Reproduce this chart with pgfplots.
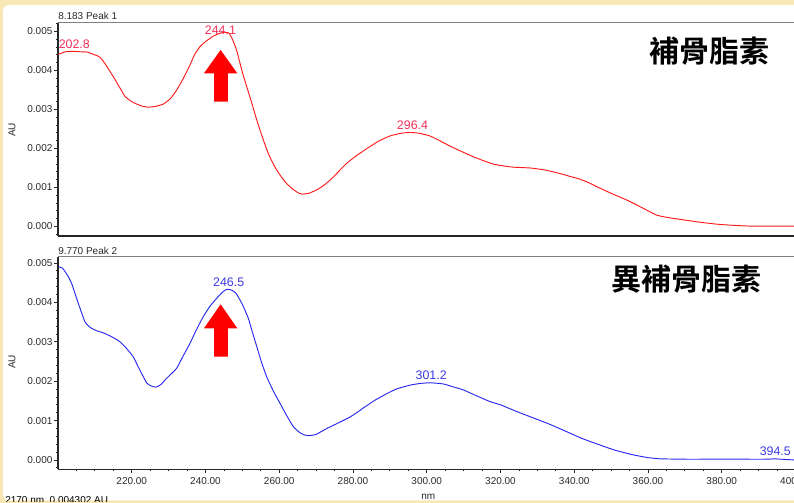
\documentclass[border=0pt]{standalone}
\usepackage{pgfplots}
\pgfplotsset{compat=1.18}
\usepackage{fontspec}
\setmainfont{Liberation Sans}
\newfontfamily\cjk{Noto Sans CJK TC}[BoldFont={Noto Sans CJK TC Bold}]
\definecolor{cream}{HTML}{F7E7B4}
\definecolor{redline}{HTML}{FF1A1A}
\definecolor{redlab}{HTML}{F2305A}
\definecolor{blueline}{HTML}{2828F0}
\definecolor{bluelab}{HTML}{3C3CE6}
\definecolor{axgray}{HTML}{808080}
\definecolor{ticktext}{HTML}{2A2A2A}

\pgfplotstableread{
x y
200 0.00441
202 0.00448
204 0.00449
206 0.00448
208 0.00447
210 0.00440
211.4 0.00434
213 0.00414
215 0.00384
217 0.00352
218.2 0.00333
220 0.00320
221.3 0.00314
223 0.00308
224.5 0.00306
226.5 0.00308
228.6 0.00314
230.5 0.00328
232.2 0.00350
234 0.00380
235.8 0.00414
237 0.00440
238.5 0.00461
240 0.00474
242.1 0.00488
243.5 0.00494
245 0.00498
246.3 0.00496
247.3 0.00480
248.5 0.00450
250 0.00395
251.2 0.00358
252.5 0.00318
253.9 0.00273
255.5 0.00227
257 0.00188
258.5 0.00158
260.2 0.00132
262 0.00110
263.4 0.00098
265 0.00087
266.1 0.00083
268 0.00085
270.2 0.00094
272 0.00105
273.8 0.00119
276 0.00140
278.3 0.00162
281 0.00182
284.6 0.00205
287 0.00219
290 0.00232
293 0.00239
295.5 0.00241
298 0.00239
300.9 0.00232
303.5 0.00220
306.3 0.00206
309.5 0.00192
312.6 0.00179
315 0.00170
318 0.00160
321 0.00155
323.5 0.00152
328 0.00150
332 0.00145
336 0.00136
339 0.00128
341.6 0.00121
344 0.00112
347 0.00098
350.5 0.00083
354.2 0.00068
358 0.00050
362.4 0.00029
366 0.00022
369.6 0.00017
374 0.00011
378.6 0.00006
383 0.00003
387.7 0.00001
393 0.00001
400 0.00001
}\peakone

\pgfplotstableread{
x y
200.2 0.00490
201.2 0.00487
202.5 0.00470
203.7 0.00448
205.5 0.00398
207.3 0.00351
208.8 0.00336
210.5 0.00328
212.5 0.00322
214.1 0.00315
215.5 0.00308
216.8 0.00300
218.5 0.00284
220.4 0.00262
222.2 0.00228
224.1 0.00195
225.5 0.00187
226.6 0.00185
228 0.00192
229 0.00203
230.3 0.00215
232.2 0.00233
234 0.00265
235.8 0.00296
237.5 0.00330
239.4 0.00364
241.2 0.00390
243 0.00410
244.5 0.00425
245.7 0.00433
246.8 0.00432
247.7 0.00428
248.5 0.00420
250 0.00395
251.6 0.00360
252.8 0.00322
253.9 0.00288
255.2 0.00248
256.6 0.00211
258.4 0.00175
260.2 0.00144
262 0.00113
263.8 0.00085
265.5 0.00070
267 0.00063
268.3 0.00062
270 0.00065
272.9 0.00080
276 0.00094
279 0.00108
281 0.00120
282.8 0.00132
286 0.00152
289.1 0.00168
292 0.00181
295.5 0.00190
298 0.00194
300.9 0.00196
304.5 0.00193
307 0.00186
309.9 0.00178
313 0.00165
317.2 0.00148
320 0.00140
324.4 0.00123
328 0.00110
333 0.00092
337.9 0.00072
342 0.00055
347 0.00038
351 0.00025
356 0.00013
360 0.00006
363.3 0.00003
370 0.00002
376 0.00002
385 0.00002
392 0.00002
394.5 0.00003
396 0.00002
400 0.00000
}\peaktwo

\pgfplotsset{
  uvstyle/.style={
    scale only axis,
    width=553.125pt,
    xmin=200, xmax=400,
    axis x line*=bottom,
    axis y line*=left,
    axis line style={line width=0.9pt, color=black!85},
    tick align=outside,
    major tick length=3pt,
    minor tick length=1.6pt,
    tick style={black!85, line width=0.6pt},
    ytick={0,0.001,0.002,0.003,0.004,0.005},
    minor ytick={-0.0002,0.0002,0.0004,0.0006,0.0008,0.0012,0.0014,0.0016,0.0018,0.0022,0.0024,0.0026,0.0028,0.0032,0.0034,0.0036,0.0038,0.0042,0.0044,0.0046,0.0048,0.0052},
    scaled y ticks=false,
    scaled x ticks=false,
    tick label style={font=\fontsize{7.5}{9}\selectfont, color=ticktext},
    yticklabel style={/pgf/number format/.cd, fixed, fixed zerofill, precision=3, assume math mode=true, /tikz/.cd, inner sep=1pt},
    clip=false,
  }
}

\begin{document}
\begin{tikzpicture}
\useasboundingbox (0pt,0pt) rectangle (595.5pt,377.25pt);
\begin{scope}[x=0.75pt, y=0.75pt]
\fill[cream] (0,0) rectangle (794,503);
\fill[white, rounded corners=4pt] (3,2.5) rectangle (830,498);
\end{scope}

% top axis
\begin{axis}[uvstyle, at={(43.5pt,200.25pt)}, anchor=south west, height=160pt,
  ymin=-0.000244, ymax=0.005226,
  xtick=\empty]
\draw[axgray, line width=0.9pt] (rel axis cs:0,1) -- (rel axis cs:1,1);
\addplot[redline, line width=0.7pt, smooth, tension=0.3] table[x=x, y=y] {\peakone};
\fill[red] (axis cs:242.31,0.0032) -- (axis cs:242.31,0.003928) -- (axis cs:239.59,0.003928) -- (axis cs:244.1,0.004526) -- (axis cs:248.62,0.003928) -- (axis cs:246.10,0.003928) -- (axis cs:246.10,0.0032) -- cycle;
\end{axis}

% bottom axis
\begin{axis}[uvstyle, at={(43.5pt,25.275pt)}, anchor=south west, height=159.45pt,
  ymin=-0.000236, ymax=0.00516,
  xtick={220,240,260,280,300,320,340,360,380,400},
  minor xtick={205,210,...,395},
  xticklabel style={/pgf/number format/.cd, fixed, fixed zerofill, precision=2, assume math mode=true, set thousands separator={}}]
\draw[axgray, line width=0.9pt] (rel axis cs:0,1) -- (rel axis cs:1,1);
\addplot[blueline, line width=0.7pt, smooth, tension=0.3] table[x=x, y=y] {\peaktwo};
\fill[red] (axis cs:242.31,0.002622) -- (axis cs:242.31,0.003343) -- (axis cs:239.59,0.003343) -- (axis cs:244.1,0.003952) -- (axis cs:248.62,0.003343) -- (axis cs:246.10,0.003343) -- (axis cs:246.10,0.002622) -- cycle;
\end{axis}

\begin{scope}[x=0.75pt, y=0.75pt]
\node[anchor=west, inner sep=0pt, text=ticktext, font=\fontsize{7.5}{9}\selectfont] at (58,487.5) {8.183 Peak 1};
\node[anchor=west, inner sep=0pt, text=ticktext, font=\fontsize{7.5}{9}\selectfont] at (58,252.2) {9.770 Peak 2};
\node[rotate=90, inner sep=0pt, text=ticktext, font=\fontsize{7.5}{9}\selectfont] at (12,373) {AU};
\node[rotate=90, inner sep=0pt, text=ticktext, font=\fontsize{7.5}{9}\selectfont] at (12,141) {AU};
\node[anchor=base, inner sep=0pt, text=ticktext, font=\fontsize{7.5}{9}\selectfont] at (428.3,3) {nm};
\node[anchor=base west, inner sep=0pt, text=black, font=\fontsize{7.5}{9}\selectfont] at (5,-0.5) {2170 nm\ \ 0.004302 AU};
\fill[cream] (0,0) rectangle (794,1.3);

\node[anchor=base, inner sep=0pt, text=redlab, font=\fontsize{9.3}{11}\selectfont] at (74.3,454.7) {202.8};
\node[anchor=base, inner sep=0pt, text=redlab, font=\fontsize{9.3}{11}\selectfont] at (220.4,468) {244.1};
\node[anchor=base, inner sep=0pt, text=redlab, font=\fontsize{9.3}{11}\selectfont] at (412.5,373.7) {296.4};
\node[anchor=base, inner sep=0pt, text=bluelab, font=\fontsize{9.3}{11}\selectfont] at (228.7,216.3) {246.5};
\node[anchor=base, inner sep=0pt, text=bluelab, font=\fontsize{9.3}{11}\selectfont] at (431.2,123) {301.2};
\node[anchor=base, inner sep=0pt, text=bluelab, font=\fontsize{9.3}{11}\selectfont] at (775.3,47) {394.5};

\node[inner sep=0pt, font=\cjk\bfseries\fontsize{22.5}{26}\selectfont] at (709,452.3) {補骨脂素};
\node[inner sep=0pt, font=\cjk\bfseries\fontsize{22.5}{26}\selectfont] at (686.7,223.8) {異補骨脂素};
\end{scope}
\end{tikzpicture}
\end{document}
